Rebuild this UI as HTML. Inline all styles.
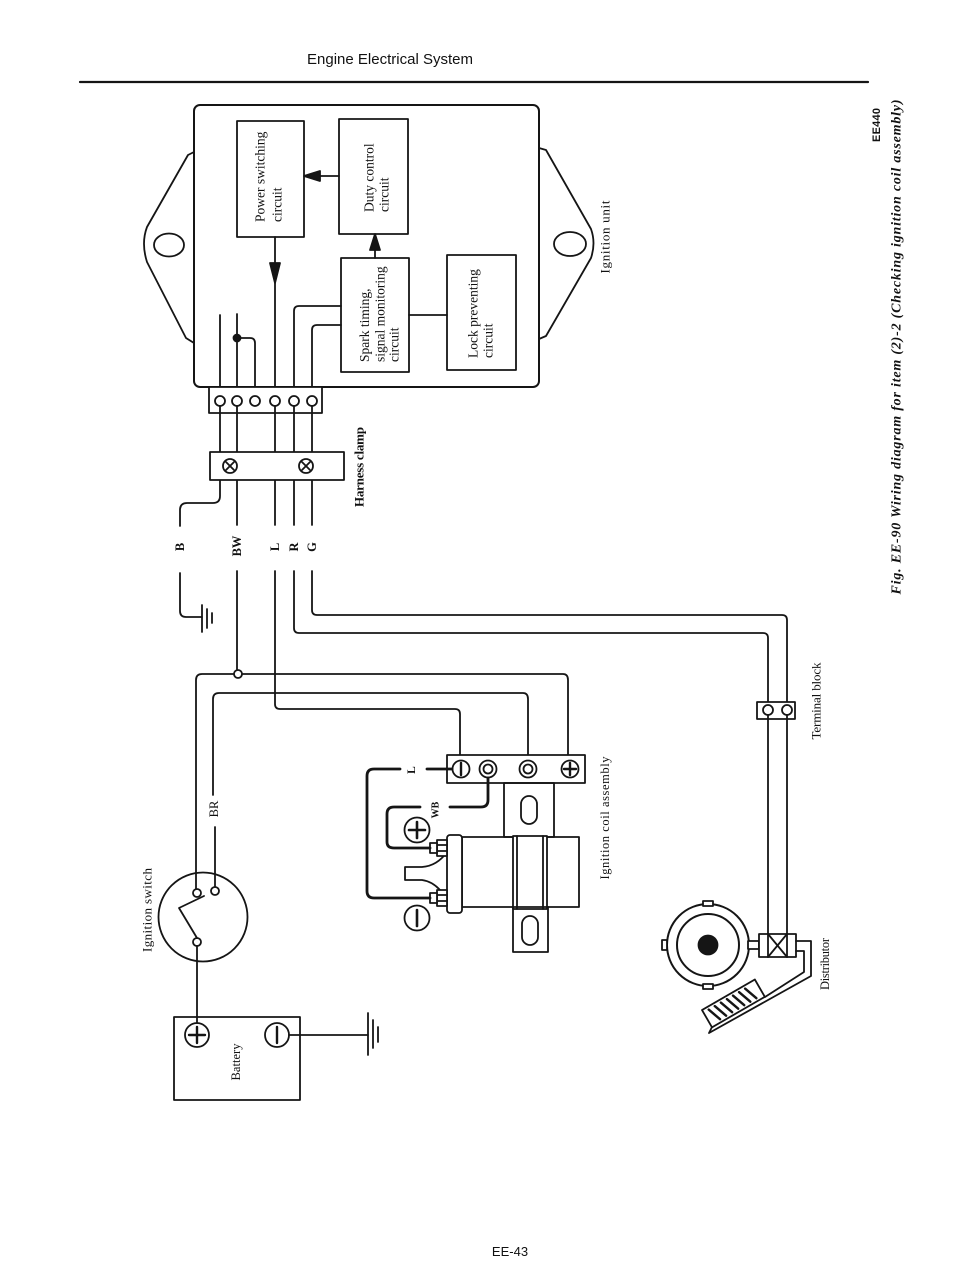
<!DOCTYPE html>
<html><head><meta charset="utf-8">
<style>
html,body{margin:0;padding:0;background:#fff;}
svg{display:block;}
text{font-family:"Liberation Serif",serif;fill:#111;}
</style></head><body>
<svg width="960" height="1283" viewBox="0 0 960 1283" xmlns="http://www.w3.org/2000/svg">
<g fill="none" stroke="#151515" stroke-width="1.8" stroke-linecap="round" stroke-linejoin="round">

<!-- header -->
<line x1="80" y1="82" x2="868" y2="82" stroke-width="2.2"/>

<!-- ignition unit ears -->
<path d="M194,152 L188,155 L147,227 Q141,243 147,262 L186,338 L194,343"/>
<path d="M539,148 L546,150 L591,229 Q596,243 591,258 L546,336 L539,339"/>
<ellipse cx="169" cy="245" rx="15" ry="11.5"/>
<ellipse cx="570" cy="244" rx="16" ry="12"/>
<!-- body -->
<rect x="194" y="105" width="345" height="282" rx="6" stroke-width="2"/>

<!-- circuit boxes -->
<rect x="237" y="121" width="67" height="116"/>
<rect x="339" y="119" width="69" height="115"/>
<rect x="341" y="258" width="68" height="114"/>
<rect x="447" y="255" width="69" height="115"/>

<!-- arrows -->
<line x1="339" y1="176" x2="318" y2="176"/>
<polygon points="304,176 320,171 320,181" fill="#151515"/>
<line x1="375" y1="258" x2="375" y2="248"/>
<polygon points="375,234 370,250 380,250" fill="#151515"/>
<line x1="275" y1="237" x2="275" y2="396"/>
<polygon points="275,283 270,263 280,263" fill="#151515"/>
<line x1="409" y1="315" x2="447" y2="315"/>

<!-- internal wires -->
<line x1="220" y1="315" x2="220" y2="396"/>
<line x1="237" y1="314" x2="237" y2="396"/>
<circle cx="237" cy="338" r="3.5" fill="#151515"/>
<path d="M237,338 H250 Q255,338 255,343 V396"/>
<path d="M341,306 H299 Q294,306 294,311 V396"/>
<path d="M341,325 H317 Q312,325 312,330 V396"/>

<!-- connector -->
<rect x="209" y="387" width="113" height="26" fill="#fff"/>
<circle cx="220" cy="401" r="5" fill="#fff"/>
<circle cx="237" cy="401" r="5" fill="#fff"/>
<circle cx="255" cy="401" r="5" fill="#fff"/>
<circle cx="275" cy="401" r="5" fill="#fff"/>
<circle cx="294" cy="401" r="5" fill="#fff"/>
<circle cx="312" cy="401" r="5" fill="#fff"/>

<!-- harness wires -->
<path d="M220,406 V496 Q220,503 213,503 H187 Q180,503 180,510 V526"/>
<path d="M180,573 V611 Q180,617 186,617 H202"/>
<line x1="202" y1="605" x2="202" y2="632"/>
<line x1="207" y1="609" x2="207" y2="628"/>
<line x1="212" y1="613" x2="212" y2="623"/>
<line x1="237" y1="406" x2="237" y2="525"/>
<line x1="237" y1="571" x2="237" y2="670"/>
<line x1="275" y1="406" x2="275" y2="525"/>
<path d="M275,571 V704 Q275,709 280,709 H455 Q460,709 460,714 V761"/>
<line x1="294" y1="406" x2="294" y2="525"/>
<path d="M294,571 V628 Q294,633 299,633 H763 Q768,633 768,638 V705"/>
<line x1="312" y1="406" x2="312" y2="525"/>
<path d="M312,571 V610 Q312,615 317,615 H782 Q787,615 787,620 V705"/>

<!-- harness clamp -->
<rect x="210" y="452" width="134" height="28" fill="#fff"/>
<circle cx="230" cy="466" r="7"/>
<line x1="226" y1="462" x2="234" y2="470"/><line x1="234" y1="462" x2="226" y2="470"/>
<circle cx="306" cy="466" r="7"/>
<line x1="302" y1="462" x2="310" y2="470"/><line x1="310" y1="462" x2="302" y2="470"/>

<!-- power loops -->
<path d="M196,889 V680 Q196,674 202,674 H563 Q568,674 568,680 V761"/>
<circle cx="238" cy="674" r="4" fill="#fff"/>
<path d="M213,795 V699 Q213,693 219,693 H523 Q528,693 528,699 V761"/>
<line x1="215" y1="827" x2="215" y2="887"/>

<!-- ignition switch -->
<circle cx="203" cy="917" r="44.5"/>
<circle cx="197" cy="893" r="4" fill="#fff"/>
<circle cx="215" cy="891" r="4" fill="#fff"/>
<circle cx="197" cy="942" r="4" fill="#fff"/>
<path d="M197,938 L179,908 L204,896"/>
<line x1="197" y1="946" x2="197" y2="1023"/>

<!-- battery -->
<rect x="174" y="1017" width="126" height="83"/>
<circle cx="197" cy="1035" r="12"/>
<line x1="189" y1="1035" x2="205" y2="1035" stroke-width="2.4"/>
<line x1="197" y1="1027" x2="197" y2="1043" stroke-width="2.4"/>
<circle cx="277" cy="1035" r="12"/>
<line x1="277" y1="1027" x2="277" y2="1043" stroke-width="2.4"/>
<line x1="289" y1="1035" x2="368" y2="1035"/>
<line x1="368" y1="1013" x2="368" y2="1055"/>
<line x1="373" y1="1020" x2="373" y2="1048"/>
<line x1="378" y1="1027" x2="378" y2="1042"/>

<!-- ignition coil assembly -->
<rect x="447" y="755" width="138" height="28" fill="#fff"/>
<circle cx="461" cy="769" r="8.5"/>
<line x1="461" y1="763" x2="461" y2="775" stroke-width="2.4"/>
<circle cx="488" cy="769" r="8.5"/>
<circle cx="488" cy="769" r="4.5"/>
<circle cx="528" cy="769" r="8.5"/>
<circle cx="528" cy="769" r="4.5"/>
<circle cx="570" cy="769" r="8.5"/>
<line x1="564" y1="769" x2="576" y2="769" stroke-width="2.4"/>
<line x1="570" y1="763" x2="570" y2="775" stroke-width="2.4"/>

<rect x="504" y="783" width="50" height="54"/>
<rect x="521" y="796" width="16" height="28" rx="8"/>
<rect x="462" y="837" width="117" height="70"/>
<rect x="513" y="836" width="34" height="73" fill="#fff"/>
<line x1="517" y1="836" x2="517" y2="909"/>
<line x1="543" y1="836" x2="543" y2="909"/>
<rect x="513" y="907" width="35" height="45"/>
<rect x="522" y="916" width="16" height="29" rx="8"/>
<rect x="447" y="835" width="15" height="78" rx="3" fill="#fff"/>
<path d="M447,852 Q437,866 422,867 H405 V880 H422 Q437,882 447,900"/>
<!-- nuts -->
<rect x="437" y="840" width="10" height="16" fill="#fff"/>
<line x1="437" y1="845" x2="447" y2="845"/><line x1="437" y1="851" x2="447" y2="851"/>
<rect x="430" y="843" width="7" height="10" fill="#fff"/>
<rect x="437" y="890" width="10" height="16" fill="#fff"/>
<line x1="437" y1="895" x2="447" y2="895"/><line x1="437" y1="901" x2="447" y2="901"/>
<rect x="430" y="893" width="7" height="10" fill="#fff"/>
<!-- +/- symbols -->
<circle cx="417" cy="830" r="12.5"/>
<line x1="409" y1="830" x2="425" y2="830" stroke-width="2.6"/>
<line x1="417" y1="822" x2="417" y2="838" stroke-width="2.6"/>
<circle cx="417" cy="918" r="12.5"/>
<line x1="417" y1="910" x2="417" y2="926" stroke-width="2.6"/>
<!-- coil wires -->
<path d="M488,778 V800 Q488,807 481,807 H450" stroke-width="2.8"/>
<path d="M420,807 H394 Q387,807 387,814 V842 Q387,848 394,848 H430" stroke-width="2.8"/>
<line x1="452" y1="769" x2="427" y2="769" stroke-width="2.8"/>
<path d="M400,769 H374 Q367,769 367,776 V891 Q367,898 374,898 H430" stroke-width="2.8"/>

<!-- terminal block -->
<rect x="757" y="702" width="38" height="17" fill="#fff"/>
<circle cx="768" cy="710" r="5"/>
<circle cx="787" cy="710" r="5"/>
<line x1="768" y1="715" x2="768" y2="934"/>
<line x1="787" y1="715" x2="787" y2="934"/>

<!-- distributor -->
<circle cx="708" cy="945" r="41" stroke-width="2"/>
<circle cx="708" cy="945" r="31" stroke-width="2"/>
<circle cx="708" cy="945" r="9.5" fill="#151515"/>
<rect x="703" y="901" width="10" height="5" fill="#fff"/>
<rect x="703" y="984" width="10" height="5" fill="#fff"/>
<rect x="662" y="940" width="5" height="10" fill="#fff"/>
<rect x="748" y="941" width="11" height="8" fill="#fff"/>
<rect x="759" y="934" width="37" height="23" fill="#fff"/>
<line x1="768" y1="934" x2="768" y2="957"/>
<line x1="787" y1="934" x2="787" y2="957"/>
<line x1="768" y1="934" x2="787" y2="957"/>
<line x1="787" y1="934" x2="768" y2="957"/>
<path d="M796,941 H811 V976 L709,1033 L712,1027"/>
<path d="M796,951 H804 V972 L765,997"/>
<g transform="translate(702,1010) rotate(-30)">
<rect x="0" y="0" width="61" height="20" fill="#fff"/>
<line x1="6" y1="3" x2="11" y2="17" stroke-width="2.4"/>
<line x1="13" y1="3" x2="18" y2="17" stroke-width="2.4"/>
<line x1="20" y1="3" x2="25" y2="17" stroke-width="2.4"/>
<line x1="27" y1="3" x2="32" y2="17" stroke-width="2.4"/>
<line x1="34" y1="3" x2="39" y2="17" stroke-width="2.4"/>
<line x1="41" y1="3" x2="46" y2="17" stroke-width="2.4"/>
<line x1="48" y1="3" x2="53" y2="17" stroke-width="2.4"/>
</g>
</g>

<!-- TEXT -->
<text x="390" y="64" font-size="15" text-anchor="middle" textLength="166" lengthAdjust="spacingAndGlyphs" style="font-family:'Liberation Sans',sans-serif">Engine Electrical System</text>

<g font-size="13.5" dominant-baseline="central" text-anchor="start">
<text transform="translate(260,222) rotate(-90)">Power switching</text>
<text transform="translate(277,222) rotate(-90)">circuit</text>
<text transform="translate(369,212) rotate(-90)">Duty control</text>
<text transform="translate(384,212) rotate(-90)">circuit</text>
<text transform="translate(364.5,362) rotate(-90)">Spark timing,</text>
<text transform="translate(380,362) rotate(-90)">signal monitoring</text>
<text transform="translate(394,362) rotate(-90)">circuit</text>
<text transform="translate(473,358) rotate(-90)">Lock preventing</text>
<text transform="translate(488,358) rotate(-90)">circuit</text>
</g>

<g dominant-baseline="central" text-anchor="middle">
<text transform="translate(605,237) rotate(-90)" font-size="13" textLength="73">Ignition unit</text>
<text transform="translate(359,467) rotate(-90)" font-size="13" textLength="80" font-weight="bold">Harness clamp</text>
<text transform="translate(605,818) rotate(-90)" font-size="12.5" textLength="123">Ignition coil assembly</text>
<text transform="translate(816,701) rotate(-90)" font-size="13" textLength="77">Terminal block</text>
<text transform="translate(825,964) rotate(-90)" font-size="12.5" textLength="52">Distributor</text>
<text transform="translate(147,910) rotate(-90)" font-size="13" textLength="84">Ignition switch</text>
<text transform="translate(236,1062) rotate(-90)" font-size="12.5" textLength="37">Battery</text>
<text transform="translate(214,809) rotate(-90)" font-size="12.5">BR</text>
<text transform="translate(180,547) rotate(-90)" font-size="12.5" font-weight="bold">B</text>
<text transform="translate(237,546) rotate(-90)" font-size="12.5" font-weight="bold">BW</text>
<text transform="translate(275,547) rotate(-90)" font-size="12.5" font-weight="bold">L</text>
<text transform="translate(294,547) rotate(-90)" font-size="12.5" font-weight="bold">R</text>
<text transform="translate(312,547) rotate(-90)" font-size="12.5" font-weight="bold">G</text>
<text transform="translate(412,770) rotate(-90)" font-size="11.5" font-weight="bold">L</text>
<text transform="translate(436,810) rotate(-90)" font-size="10" font-weight="bold">WB</text>
<text transform="translate(897,347) rotate(-90)" font-size="14" font-weight="bold" font-style="italic" textLength="495">Fig. EE-90  Wiring diagram for item (2)-2 (Checking ignition coil assembly)</text>
<text transform="translate(877,125) rotate(-90)" font-size="11" font-weight="bold" style="font-family:'Liberation Sans',sans-serif" textLength="34">EE440</text>
</g>

<text x="510" y="1256" font-size="13" text-anchor="middle" style="font-family:'Liberation Sans',sans-serif">EE-43</text>
</svg>
</body></html>
